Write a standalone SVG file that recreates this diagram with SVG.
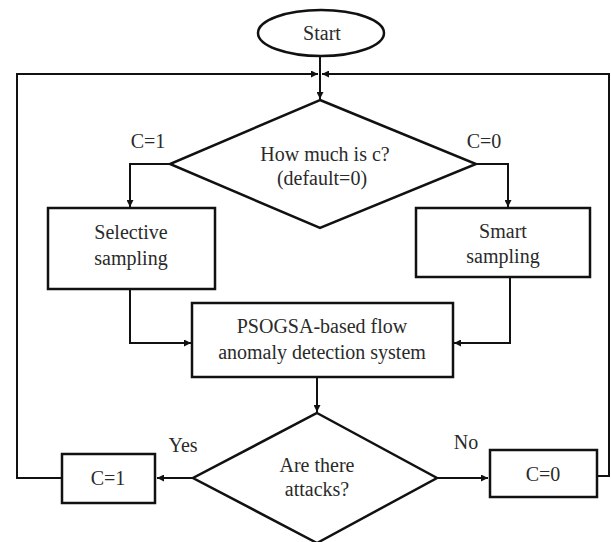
<svg xmlns="http://www.w3.org/2000/svg" width="611" height="542" viewBox="0 0 611 542">
<style>
.n{fill:#fff;stroke:#111;stroke-width:2.5}
.e{fill:none;stroke:#111;stroke-width:2}
text{font-size:20px;fill:#2a2a2a;text-anchor:middle}
</style>
<defs>
<marker id="a" viewBox="0 0 10 10" refX="10" refY="5" markerWidth="7" markerHeight="7" orient="auto" markerUnits="userSpaceOnUse"><path d="M0,0L10,5L0,10z" fill="#111"/></marker>
</defs>
<rect width="611" height="542" fill="#fff"/>
<g id="connectors">
<path class="e" d="M320,56V99" marker-end="url(#a)"/>
<path class="e" d="M170,164H130V207" marker-end="url(#a)"/>
<path class="e" d="M476,164H508V207" marker-end="url(#a)"/>
<path class="e" d="M130,289V343H191" marker-end="url(#a)"/>
<path class="e" d="M510,277V343H454" marker-end="url(#a)"/>
<path class="e" d="M317,377V412" marker-end="url(#a)"/>
<path class="e" d="M193,478H157" marker-end="url(#a)"/>
<path class="e" d="M433,478H488" marker-end="url(#a)"/>
<path class="e" d="M62,478H17V74H318" marker-end="url(#a)"/>
<path class="e" d="M597,476H609V74H322" marker-end="url(#a)"/>
</g>
<g font-family="'Liberation Serif', 'Times New Roman', serif">
<g id="start"><ellipse class="n" cx="321" cy="33" rx="63" ry="23"/><text x="322" y="40">Start</text></g>
<g id="decision1"><polygon class="n" points="320,100 476,164 320,228 170,164"/><text x="325" y="161">How much is c?</text><text x="322" y="185">(default=0)</text></g>
<g id="selective"><rect class="n" x="48" y="208" width="167" height="81"/><text x="131" y="239">Selective</text><text x="131" y="265">sampling</text></g>
<g id="smart"><rect class="n" x="416" y="208" width="174" height="69"/><text x="503" y="238">Smart</text><text x="503" y="263">sampling</text></g>
<g id="psogsa"><rect class="n" x="192" y="303" width="261" height="74"/><text x="322" y="333">PSOGSA-based flow</text><text x="322" y="359">anomaly detection system</text></g>
<g id="decision2"><polygon class="n" points="317,413 437,478 317,543 193,478"/><text x="317" y="472">Are there</text><text x="317" y="496">attacks?</text></g>
<g id="c1"><rect class="n" x="62" y="454" width="93" height="49"/><text x="108" y="485">C=1</text></g>
<g id="c0"><rect class="n" x="490" y="450" width="107" height="47"/><text x="543" y="481">C=0</text></g>
<g id="labels"><text x="148" y="148">C=1</text><text x="484" y="148">C=0</text><text x="183" y="452">Yes</text><text x="466" y="449">No</text></g>
</g>
</svg>
